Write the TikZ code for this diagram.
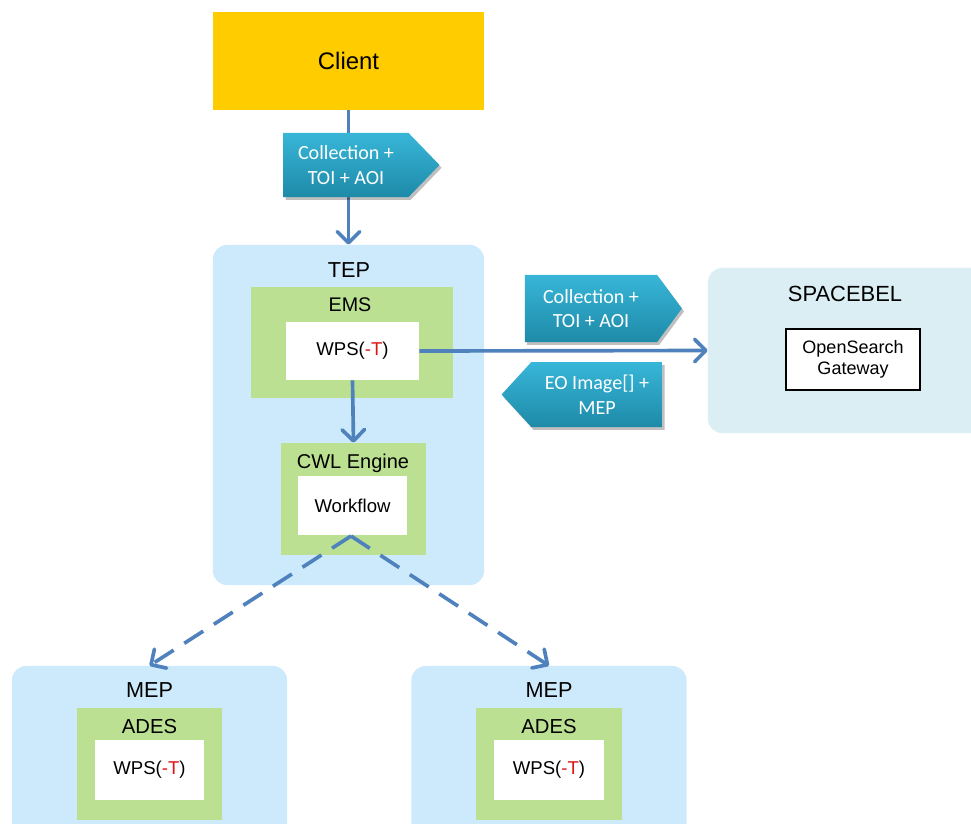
\documentclass[tikz,border=0pt]{standalone}
\usepackage{fontspec}
\setmainfont{Liberation Sans}
\newfontfamily\calibri{Carlito}
\usetikzlibrary{arrows.meta,shapes.symbols,shadows}

\definecolor{clientyellow}{RGB}{255,204,0}
\definecolor{tepblue}{RGB}{204,234,252}
\definecolor{spacebelblue}{RGB}{218,238,243}
\definecolor{emsgreen}{RGB}{187,224,146}
\definecolor{linkblue}{RGB}{79,129,189}
\definecolor{tagtop}{RGB}{56,182,216}
\definecolor{tagbottom}{RGB}{30,138,168}
\definecolor{tred}{RGB}{220,20,20}

\newcommand{\wpst}{WPS(\textcolor{tred}{-T})}

\begin{document}
\begin{tikzpicture}[
    x=0.025cm, y=-0.025cm,
    box/.style={rectangle, inner sep=0pt},
    platform/.style={box, fill=tepblue, rounded corners=10pt},
    service/.style={box, fill=emsgreen},
    wps/.style={box, fill=white, font=\fontsize{13.2}{15}\selectfont},
    title/.style={inner sep=0pt, font=\fontsize{15.4}{18}\selectfont},
    tag/.style={shape=signal, signal to=east, inner sep=0pt, top color=tagtop,
        bottom color=tagbottom, text=white, align=center,
        font=\calibri\fontsize{14.3}{17.5}\selectfont,
        drop shadow={shadow xshift=1.5pt, shadow yshift=-2pt, opacity=0.25, fill=black}},
    link/.style={draw=linkblue, line width=2.6pt, -{Straight Barb[length=8pt, width=16pt, round]}}
]
    \useasboundingbox (0,0) rectangle (971,823);
    \clip (0,0) rectangle (971,823);

    \node[box, fill=clientyellow, minimum width=6.775cm, minimum height=2.45cm,
        font=\fontsize{17}{20}\selectfont] (client) at (348.5,61) {Client};

    % TEP with EMS and CWL engine
    \node[platform, minimum width=6.775cm, minimum height=8.5cm] (tep) at (348.5,415) {};
    \node[title] (teplabel) at (349,270) {TEP};
    \node[service, minimum width=5.05cm, minimum height=2.775cm] (ems) at (352,342.5) {};
    \node[title, font=\fontsize{14}{17}\selectfont] (emslabel) at (350,305) {EMS};
    \node[wps, minimum width=3.325cm, minimum height=1.45cm] (emswps) at (352.5,351) {\wpst};
    \node[service, minimum width=3.625cm, minimum height=2.8cm] (cwl) at (353.5,499) {};
    \node[title, font=\fontsize{14.2}{17}\selectfont] (cwllabel) at (353,463) {CWL Engine};
    \node[wps, minimum width=2.725cm, minimum height=1.475cm] (workflow) at (352.5,505.5) {Workflow};

    % SPACEBEL
    \node[platform, fill=spacebelblue, minimum width=7.05cm, minimum height=4.125cm] (spacebel) at (849,350.5) {};
    \node[title, font=\fontsize{15.6}{18}\selectfont] (spacebellabel) at (845,294) {SPACEBEL};
    \node[box, fill=white, draw=black, line width=0.9pt, align=center, minimum width=3.35cm,
        minimum height=1.525cm, font=\fontsize{12.8}{15}\selectfont] (gateway) at (853,359.5) {OpenSearch\\Gateway};

    % MEPs
    \foreach \mep/\cx in {mepa/149.5, mepb/549} {
        \node[platform, minimum width=6.875cm, minimum height=5.1cm] (\mep) at (\cx,768) {};
        \node[title] (\mep label) at (\cx,690) {MEP};
        \node[service, minimum width=3.625cm, minimum height=2.8cm] (\mep ades) at (\cx,764) {};
        \node[title, font=\fontsize{14.4}{17}\selectfont] (\mep adeslabel) at (\cx,727) {ADES};
        \node[wps, minimum width=2.725cm, minimum height=1.5cm] (\mep wps) at (\cx,770) {\wpst};
    }

    \draw[link] (client.south) -- (tep.north);
    \draw[link] (emswps.south) -- (cwl.north);
    \draw[link] (emswps.east) -- (spacebel.west);
    \coordinate (fork) at (351,536);
    \draw[link, dash pattern=on 16pt off 9pt] (fork) -- (mepa.north);
    \draw[link, dash pattern=on 16pt off 9pt] (fork) -- (mepb.north);

    % messages
    \node[tag, signal pointer angle=92, minimum width=3.9cm, minimum height=1.6cm] (query) at (346,165) {Collection +\\TOI + AOI};
    \node[tag, signal pointer angle=107, minimum width=3.925cm, minimum height=1.675cm] (request) at (591,308.5) {Collection +\\TOI + AOI};
    \node[tag, signal to=west, signal pointer angle=95, minimum width=4.025cm, minimum height=1.625cm] (response) at (597,394.5) {EO Image[] +\\MEP};
\end{tikzpicture}
\end{document}
